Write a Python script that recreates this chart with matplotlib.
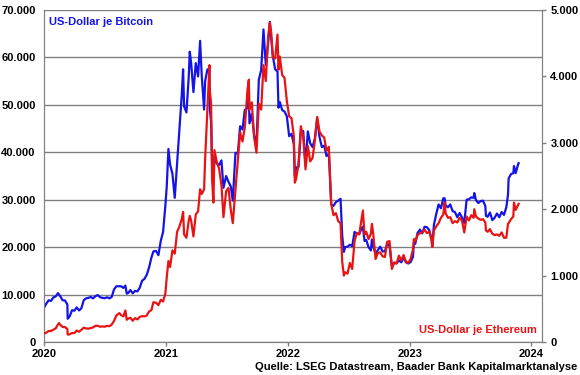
import matplotlib
matplotlib.use("Agg")
import matplotlib.pyplot as plt
import matplotlib.dates as mdates
from matplotlib.ticker import FuncFormatter, MultipleLocator
import pandas as pd

# (date, BTC in USD, ETH in USD)
dates = [
    "2020-01-01","2020-01-08","2020-01-15","2020-01-22","2020-01-29","2020-02-05","2020-02-12","2020-02-15",
    "2020-02-19","2020-02-26","2020-03-04","2020-03-11","2020-03-12","2020-03-18","2020-03-25","2020-04-01",
    "2020-04-08","2020-04-15","2020-04-22","2020-04-29","2020-05-06","2020-05-13","2020-05-20","2020-05-27",
    "2020-06-03","2020-06-10","2020-06-17","2020-06-24","2020-07-01","2020-07-08","2020-07-15","2020-07-22",
    "2020-07-29","2020-08-05","2020-08-14","2020-08-19","2020-08-26","2020-09-01","2020-09-05","2020-09-09",
    "2020-09-16","2020-09-23","2020-09-30","2020-10-07","2020-10-14","2020-10-21","2020-10-28","2020-11-04",
    "2020-11-11","2020-11-18","2020-11-24","2020-12-02","2020-12-09","2020-12-16","2020-12-23","2020-12-30",
    "2021-01-03","2021-01-08","2021-01-13","2021-01-20","2021-01-27","2021-02-03","2021-02-10","2021-02-17",
    "2021-02-21","2021-02-24","2021-03-03","2021-03-10","2021-03-13","2021-03-17","2021-03-24","2021-03-31",
    "2021-04-07","2021-04-13","2021-04-18","2021-04-25","2021-04-28","2021-05-05","2021-05-11","2021-05-12",
    "2021-05-16","2021-05-19","2021-05-23","2021-05-26","2021-06-02","2021-06-09","2021-06-16","2021-06-22",
    "2021-06-30","2021-07-07","2021-07-14","2021-07-20","2021-07-28","2021-08-04","2021-08-11","2021-08-18",
    "2021-08-25","2021-09-02","2021-09-06","2021-09-08","2021-09-15","2021-09-22","2021-09-29","2021-10-06",
    "2021-10-13","2021-10-20","2021-10-27","2021-11-03","2021-11-08","2021-11-12","2021-11-17","2021-11-24",
    "2021-12-01","2021-12-04","2021-12-08","2021-12-15","2021-12-22","2021-12-29",
    "2022-01-05","2022-01-12","2022-01-19","2022-01-22","2022-01-26","2022-02-02","2022-02-09","2022-02-16",
    "2022-02-23","2022-03-02","2022-03-09","2022-03-16","2022-03-23","2022-03-30","2022-04-06","2022-04-13",
    "2022-04-20","2022-04-27","2022-05-04","2022-05-11","2022-05-18","2022-05-25","2022-06-01","2022-06-08",
    "2022-06-13","2022-06-18","2022-06-22","2022-06-29","2022-07-06","2022-07-13","2022-07-20","2022-07-27",
    "2022-08-03","2022-08-10","2022-08-14","2022-08-19","2022-08-24","2022-08-31","2022-09-07","2022-09-10",
    "2022-09-14","2022-09-21","2022-09-28","2022-10-05","2022-10-12","2022-10-19","2022-10-26","2022-11-02",
    "2022-11-09","2022-11-16","2022-11-23","2022-11-30","2022-12-07","2022-12-14","2022-12-21","2022-12-28",
    "2023-01-04","2023-01-11","2023-01-14","2023-01-18","2023-01-25","2023-02-01","2023-02-08","2023-02-15",
    "2023-02-22","2023-03-01","2023-03-08","2023-03-10","2023-03-15","2023-03-22","2023-03-29","2023-04-05",
    "2023-04-12","2023-04-16","2023-04-19","2023-04-26","2023-05-03","2023-05-10","2023-05-17","2023-05-24",
    "2023-05-31","2023-06-07","2023-06-14","2023-06-21","2023-06-28","2023-07-05","2023-07-12","2023-07-14",
    "2023-07-19","2023-07-26","2023-08-02","2023-08-09","2023-08-16","2023-08-18","2023-08-23","2023-08-30",
    "2023-09-06","2023-09-13","2023-09-20","2023-09-27","2023-10-04","2023-10-11","2023-10-18","2023-10-23",
    "2023-10-25","2023-11-01","2023-11-08","2023-11-10","2023-11-15","2023-11-22","2023-11-24",
]

btc = [
    7200,8100,8800,8650,9400,9600,10300,10000,
    9600,8800,8750,7900,4900,5400,6700,6600,
    7300,6650,7100,8800,9200,9300,9500,9200,
    9650,9900,9450,9300,9230,9430,9200,9500,
    11100,11750,11750,11750,11400,11900,10200,10300,
    10950,10250,10780,10670,11430,12900,13300,14150,
    15700,17800,19100,19200,18300,21300,23200,28900,
    32800,40700,37400,35500,30400,37600,44800,52100,
    57500,49700,48400,56000,61200,58900,52700,58800,
    56000,63500,56000,49000,55000,57500,56700,49200,
    46400,37000,34700,39300,37600,37300,38300,32500,
    35000,33800,32800,29800,39900,39700,45500,44800,
    48900,49300,52700,46100,48100,43600,41500,55300,
    57300,65900,58400,62900,67500,64200,60300,57500,
    57000,49400,50600,48900,48600,47600,
    43400,43900,41700,35000,36800,36900,44400,44500,
    37300,44400,41900,41100,42900,47100,43200,41100,
    41400,39200,39700,29000,28700,29500,29800,30200,
    22500,19000,20000,20100,20500,20200,23200,22900,
    22800,23900,24300,21300,21500,20000,19300,21600,
    20200,18500,19400,20100,19100,19100,20800,20200,
    15900,16700,16600,17200,16800,17800,16800,16550,
    16850,17900,20900,20700,23000,23700,22900,24300,
    24200,23600,21700,20200,24700,27000,29000,28200,
    30300,30300,28800,28400,29000,27600,27400,26300,
    27200,26300,25100,30000,30100,30500,30400,31400,
    29900,29300,29700,29800,28700,26600,26400,27300,
    25700,26200,27100,26300,27400,26800,28400,31000,
    34500,35400,35600,37100,35600,37400,37700,
]

eth = [
    130,141,165,167,185,205,265,285,
    258,225,225,195,112,115,136,135,
    172,155,183,215,205,200,210,220,
    243,245,230,235,230,243,238,263,
    317,400,435,405,385,475,335,350,
    365,320,360,340,378,390,385,400,
    460,480,600,590,555,635,610,735,
    975,1220,1130,1380,1330,1660,1740,1850,
    1960,1620,1570,1830,1900,1830,1590,1920,
    1970,2300,2230,2300,2750,3520,4170,3800,
    3580,2440,2100,2890,2710,2610,2360,1880,
    2270,2320,1990,1790,2300,2730,3160,3020,
    3230,3790,3950,3500,3610,3080,2850,3590,
    3500,4170,3930,4600,4810,4670,4290,4270,
    4630,4100,4300,4020,3980,3630,
    3400,3370,3100,2400,2460,2680,3250,3100,
    2600,2950,2720,2770,3030,3390,3170,3110,
    3080,2880,2940,2080,1910,1940,1820,1790,
    1210,1000,1050,1030,1190,1100,1520,1640,
    1620,1850,1980,1620,1660,1550,1630,1780,
    1630,1250,1340,1350,1290,1280,1510,1520,
    1100,1200,1180,1300,1230,1310,1210,1190,
    1250,1390,1550,1520,1610,1640,1650,1690,
    1640,1660,1530,1430,1680,1740,1790,1870,
    1920,2100,1940,1870,1880,1790,1820,1800,
    1870,1830,1650,1890,1830,1910,1870,2000,
    1890,1860,1840,1850,1800,1680,1660,1700,
    1630,1610,1620,1600,1650,1570,1570,1780,
    1790,1850,1890,2100,1990,2060,2080,
]

year_ticks = ["2020", "2021", "2022", "2023", "2024"]

plt.rcParams["font.family"] = ["Liberation Sans", "DejaVu Sans"]
plt.rcParams["font.weight"] = "bold"

def de_fmt(v, pos):
    return f"{int(round(v)):,}".replace(",", ".")

d = pd.to_datetime(dates)

fig = plt.figure(figsize=(5.8, 3.75), dpi=100)
ax = fig.add_axes([44/580, 33/375, (542-44)/580, (342-10)/375])
ax2 = ax.twinx()

grey = "#808080"
ax.plot(d, btc, color="#1414E6", lw=1.6, zorder=3)
ax2.plot(d, eth, color="#E81414", lw=1.6, zorder=3)

ax.set_ylim(0, 70000)
ax2.set_ylim(0, 5000)
ax.yaxis.set_major_locator(MultipleLocator(10000))
ax2.yaxis.set_major_locator(MultipleLocator(1000))
ax.yaxis.set_major_formatter(FuncFormatter(de_fmt))
ax2.yaxis.set_major_formatter(FuncFormatter(de_fmt))

ax.set_xlim(pd.Timestamp("2020-01-01"), pd.Timestamp("2024-02-02"))
ax.set_xticks([pd.Timestamp(y + "-01-01") for y in year_ticks])
ax.set_xticklabels(year_ticks)

ax.grid(axis="y", color=grey, lw=1.0)
ax.set_axisbelow(True)

for a in (ax, ax2):
    for s in a.spines.values():
        s.set_color(grey)
    a.spines["top"].set_visible(False)
    a.tick_params(colors="black", labelsize=8, width=1, length=3, direction="out")
    for lab in a.get_yticklabels() + a.get_xticklabels():
        lab.set_fontweight("bold")
ax.tick_params(axis="y", length=0, pad=6)
ax.tick_params(axis="x", color=grey, pad=2)
ax2.tick_params(axis="y", color=grey, length=3, pad=3)

ax.text(0.01, 0.965, "US-Dollar je Bitcoin", transform=ax.transAxes, color="#1414E6",
        fontsize=8, fontweight="bold", ha="left", va="center")
ax.text(0.99, 0.035, "US-Dollar je Ethereum", transform=ax.transAxes, color="#E81414",
        fontsize=8, fontweight="bold", ha="right", va="center")
fig.text(577/580, 1 - 367/375, "Quelle: LSEG Datastream, Baader Bank Kapitalmarktanalyse",
         fontsize=8, fontweight="bold", ha="right", va="center")

fig.savefig("out.png", dpi=100)
